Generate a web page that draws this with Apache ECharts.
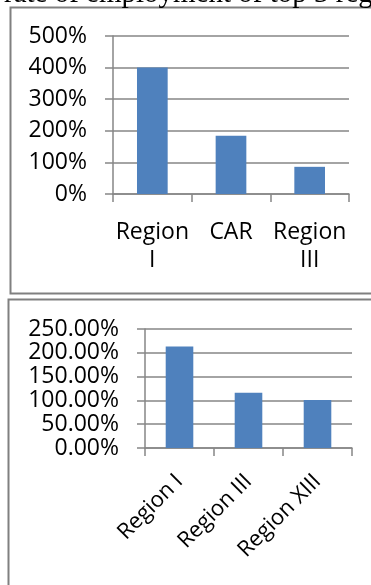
<!DOCTYPE html>
<html>
<head>
<meta charset="utf-8">
<script src="https://cdn.jsdelivr.net/npm/echarts@6/dist/echarts.min.js"></script>
<style>
html,body{margin:0;padding:0;background:#fff;}
#c{width:371px;height:585px;}
</style>
</head>
<body>
<div id="c"></div>
<script>
// Top chart
var topCategories = ['Region I', 'CAR', 'Region III'];
var topValues = [4.00, 1.84, 0.86];
var topTicks = ['0%', '100%', '200%', '300%', '400%', '500%'];
// Bottom chart
var bottomCategories = ['Region I', 'Region III', 'Region XIII'];
var bottomValues = [2.13, 1.16, 1.01];
var bottomTicks = ['0.00%', '50.00%', '100.00%', '150.00%', '200.00%', '250.00%'];
var headerText = 'rate of employment of top 3 regions';

var FONT = 'Open Sans';
var AXIS = '#868686';
var BAR = '#4F81BD';

var chart = echarts.init(document.getElementById('c'), null, {renderer: 'canvas'});

function yAxisCfg(gridIndex, max, interval, ticks) {
  return {
    type: 'value', gridIndex: gridIndex, min: 0, max: max, interval: interval,
    axisLine: {show: true, lineStyle: {color: AXIS, width: 1.5}},
    axisTick: {show: true, length: 8, lineStyle: {color: AXIS, width: 1.5}},
    splitLine: {show: true, lineStyle: {color: AXIS, width: 1.5}},
    axisLabel: {
      color: '#000', fontFamily: FONT, fontSize: 23, margin: 26,
      formatter: function (v) { return ticks[Math.round(v / interval)]; }
    }
  };
}

var option = {
  animation: false,
  backgroundColor: '#fff',
  graphic: [
    {type: 'rect', shape: {x: 10.5, y: 7.5, width: 380, height: 286}, style: {fill: 'none', stroke: '#808080', lineWidth: 2}, z: 0},
    {type: 'rect', shape: {x: 8.5, y: 299.5, width: 380, height: 300}, style: {fill: 'none', stroke: '#808080', lineWidth: 2}, z: 0},
    {type: 'text', x: 4, y: 9, style: {text: headerText, font: '29px "Liberation Serif"', fill: '#000', verticalAlign: 'bottom'}, z: 10}
  ],
  grid: [
    {left: 113, right: 22, top: 36, bottom: 391},
    {left: 145, right: 19, top: 329, bottom: 137}
  ],
  xAxis: [
    {
      type: 'category', gridIndex: 0, data: topCategories,
      axisLine: {show: true, lineStyle: {color: AXIS, width: 1.5}},
      axisTick: {show: true, length: 8, lineStyle: {color: AXIS, width: 1.5}},
      axisLabel: {
        color: '#000', fontFamily: FONT, fontSize: 23, lineHeight: 28, margin: 24,
        interval: 0,
        formatter: function (v) { return v.replace(' ', '\n'); }
      }
    },
    {
      type: 'category', gridIndex: 1, data: bottomCategories,
      axisLine: {show: true, lineStyle: {color: AXIS, width: 1.5}},
      axisTick: {show: true, length: 8, lineStyle: {color: AXIS, width: 1.5}},
      axisLabel: {
        color: '#000', fontFamily: FONT, fontSize: 22, rotate: 45, margin: 30,
        interval: 0
      }
    }
  ],
  yAxis: [
    yAxisCfg(0, 5, 1, topTicks),
    yAxisCfg(1, 2.5, 0.5, bottomTicks)
  ],
  series: [
    {type: 'bar', xAxisIndex: 0, yAxisIndex: 0, data: topValues, barWidth: '39%', itemStyle: {color: BAR}},
    {type: 'bar', xAxisIndex: 1, yAxisIndex: 1, data: bottomValues, barWidth: '40%', itemStyle: {color: BAR}}
  ]
};
chart.setOption(option);
</script>
</body>
</html>
